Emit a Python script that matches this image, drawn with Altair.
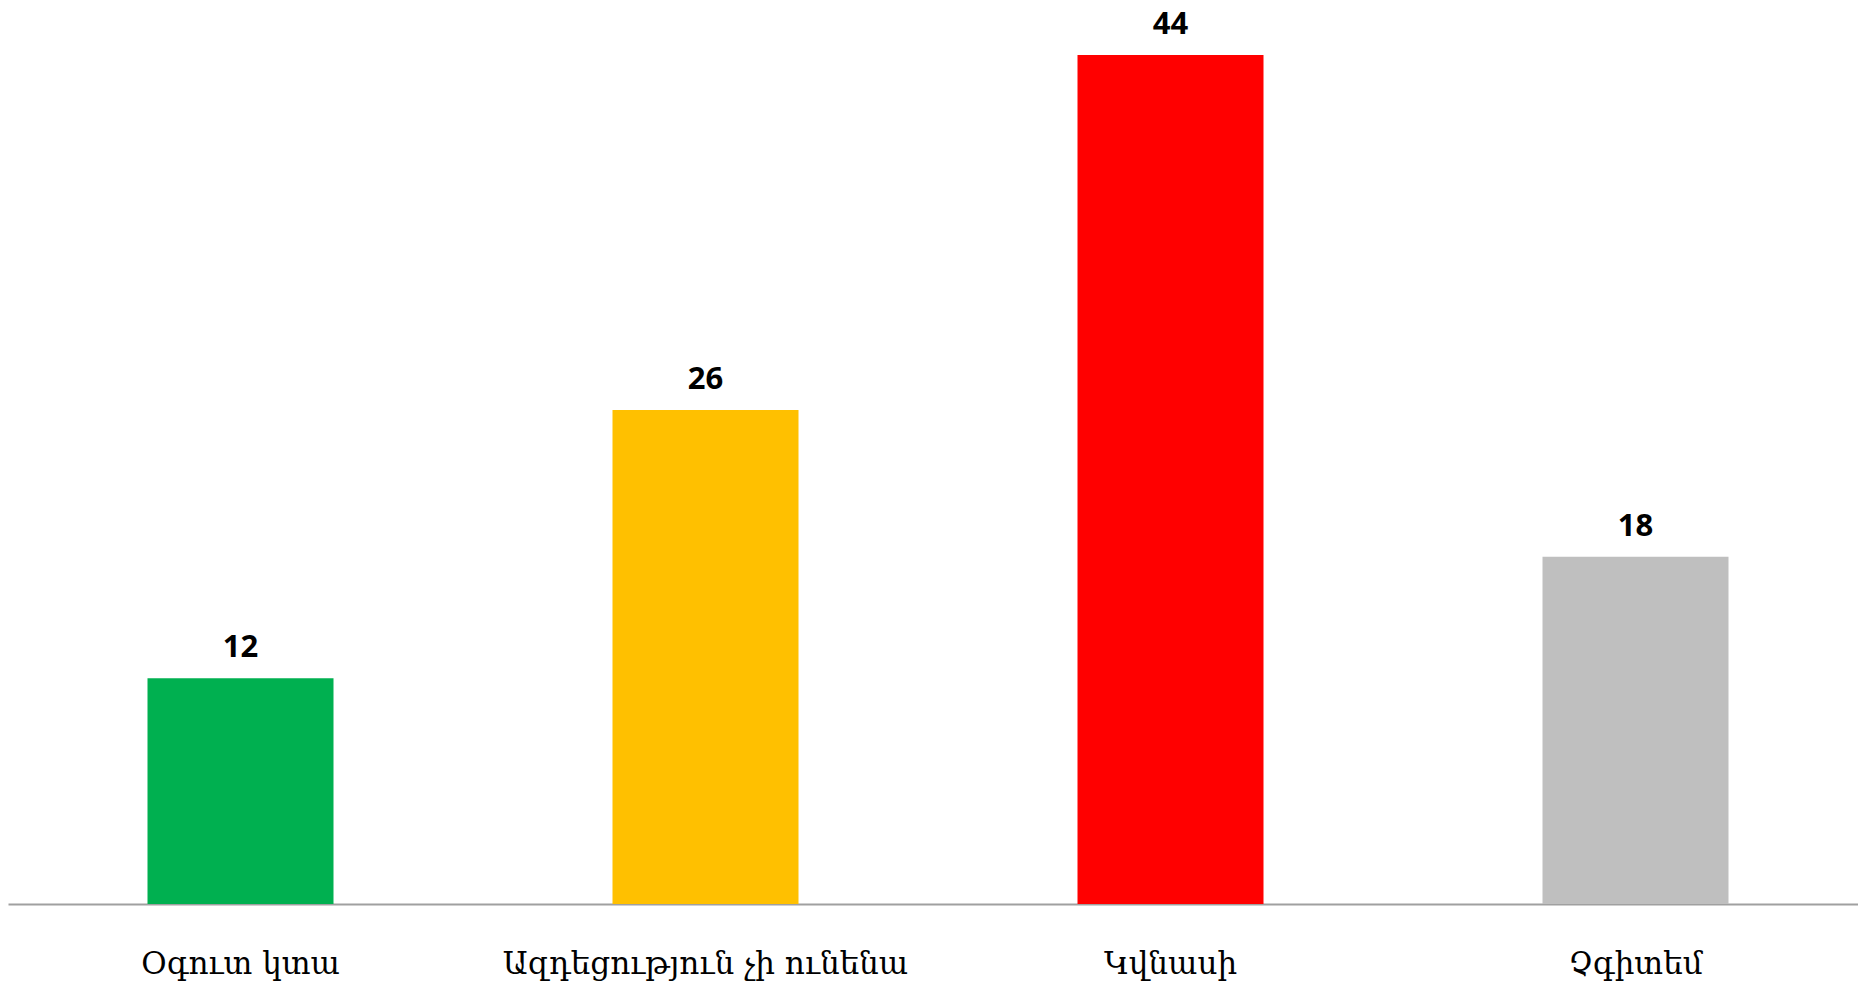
import altair as alt
import pandas as pd

categories = ["Օգուտ կտա", "Ազդեցություն չի ունենա", "Կվնասի", "Չգիտեմ"]
values = [11.7, 25.6, 44.0, 18.0]
colors = ["#00b050", "#ffc000", "#ff0000", "#bfbfbf"]

df = pd.DataFrame({"cat": categories, "val": values, "col": colors})

x = alt.X("cat:N", sort=categories, title=None,
          scale=alt.Scale(range=[0, 1860], paddingInner=0.6, paddingOuter=0.3),
          axis=alt.Axis(labelAngle=0, labelFont="DejaVu Serif", labelFontSize=31,
                        labelColor="#000000", labelPadding=60, labelBaseline="middle",
                        ticks=False, domainColor="#a0a0a0", domainWidth=2,
                        labelLimit=0))
y = alt.Y("val:Q", scale=alt.Scale(domain=[0, 45.4], nice=False), axis=None)

bars = alt.Chart(df).mark_bar().encode(
    x=x, y=y, color=alt.Color("col:N", scale=None)
)
text = alt.Chart(df).mark_text(
    font="Open Sans", fontWeight="bold", fontSize=31, baseline="alphabetic", dy=-21, color="#000000"
).encode(x=alt.X("cat:N", sort=categories), y=y, text=alt.Text("val:Q", format=".0f"))

chart = (bars + text).properties(
    width=1850, height=876,
    autosize=alt.AutoSizeParams(type="none"),
    padding={"left": 0, "top": 20, "right": 0, "bottom": 80},
).configure_view(stroke=None).configure_axis(grid=False)

chart.save("out.html", embed_options={"renderer": "svg", "actions": False})
